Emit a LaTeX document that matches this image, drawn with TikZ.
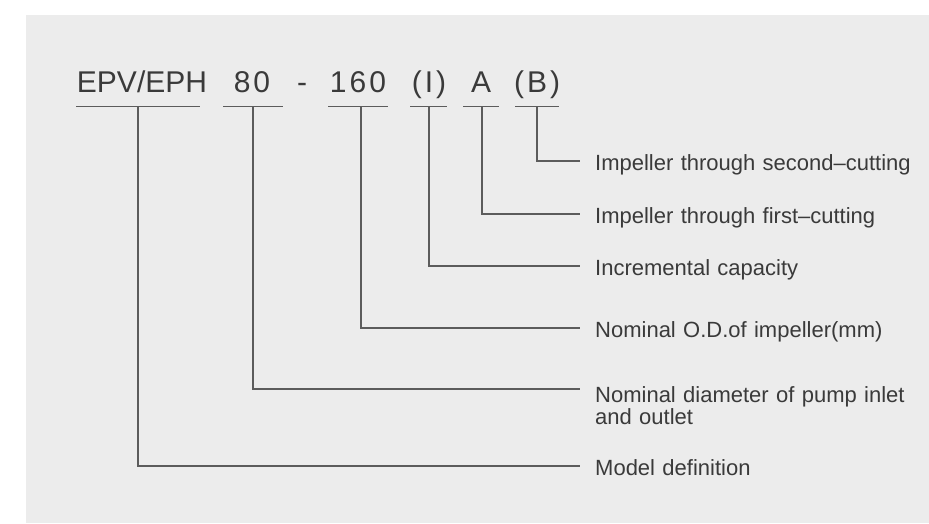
\documentclass[tikz,border=0pt]{standalone}
\usepackage{fontspec}
\setmainfont{Liberation Sans}
\newfontfamily\codefont[LetterSpace=10]{Liberation Sans}
\newfontfamily\descfont[WordSpace=1.2]{Liberation Sans}
\usetikzlibrary{positioning}
\definecolor{panel}{HTML}{ECECEC}
\definecolor{ink}{HTML}{3A3A3A}
\definecolor{wire}{HTML}{5C5C5C}

\begin{document}
\begin{tikzpicture}[x=1pt,y=-1pt]
\tikzset{part/.style = {anchor=base,inner sep=0pt,text=ink,font=\fontsize{30}{36}\selectfont}}
\tikzset{wide/.style = {part,font=\fontsize{30}{36}\codefont}}
\tikzset{descbase/.style = {inner xsep=15pt,inner ysep=0pt,text=ink,font=\fontsize{22}{22}\descfont}}
\tikzset{desc/.style = {descbase,anchor=west,text height=19pt,text depth=0pt}}
\tikzset{uline/.style = {draw=wire,line width=1.2pt}}
\tikzset{lead/.style = {draw=wire,line width=1.2pt}}
\useasboundingbox (0,0) rectangle (929,523);
\fill[panel] (26,15) rectangle (929,523);
% model code
\node[part] (epv)  at (142,92) {EPV/EPH};
\node[wide] (dn)   at (252,92) {80};
\node[part] (dash) at (302,92) {-};
\node[wide] (od)   at (358,92) {160};
\node[wide] (cap)  at (429,92) {(I)};
\node[part] (cuta) at (481,92) {A};
\node[wide] (cutb) at (537,92) {(B)};
% underlines
\foreach \n/\a/\b/\m in {epv/76/200/138, dn/223/283/253, od/328/388/361,
  cap/410/447/429, cuta/463/499/482, cutb/515/559/537}{
  \draw[uline] (\a,106.5) -- (\b,106.5);
  \coordinate (\n-u) at (\m,106.5);
}
% meanings
\node[desc] (lsec)   at (580,161) {Impeller through second–cutting};
\node[desc] (lfirst) at (580,214) {Impeller through first–cutting};
\node[desc] (lcap)   at (580,266) {Incremental capacity};
\node[desc] (lod)    at (580,328) {Nominal O.D.of impeller(mm)};
\node[descbase,anchor=north west,align=left] (lin) at (580,386) {Nominal diameter of pump inlet\\and outlet};
\node[desc] (ldef)   at (580,466) {Model definition};
%leads
\draw[lead] (cutb-u) |- (lsec.west);
\draw[lead] (cuta-u) |- (lfirst.west);
\draw[lead] (cap-u)  |- (lcap.west);
\draw[lead] (od-u)   |- (lod.west);
\draw[lead] (dn-u)   |- ([yshift=-3pt]lin.north west);
\draw[lead] (epv-u)  |- (ldef.west);
\end{tikzpicture}
\end{document}
